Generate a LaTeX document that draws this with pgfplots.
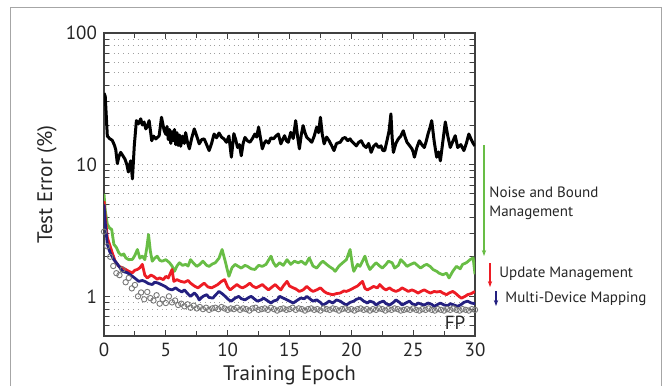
\documentclass[border=0pt]{standalone}
\usepackage{fontspec}
\setmainfont{PT Sans}
\usepackage{pgfplots}
\pgfplotsset{compat=1.18}
\usetikzlibrary{arrows.meta}
\definecolor{cgreen}{RGB}{104,189,69}
\definecolor{cred}{RGB}{237,28,36}
\definecolor{cblue}{RGB}{36,32,128}
\definecolor{cfp}{RGB}{120,120,120}
\begin{document}
\begin{tikzpicture}
\path[use as bounding box] (0,0) rectangle (333.5pt,193pt);
\draw[gray!70, line width=0.5pt] (5pt,0) -- (5pt,189pt) -- (330.5pt,189pt) -- (330.5pt,0);
\begin{axis}[
  at={(52pt,25pt)}, anchor=south west,
  scale only axis, width=185.5pt, height=151.5pt,
  ymode=log, log basis y=10,
  xmin=0, xmax=30, ymin=0.5, ymax=100,
  xtick={0,5,10,15,20,25,30}, xticklabels={0,5,10,15,20,25,30},
  minor xtick={2.5,7.5,12.5,17.5,22.5,27.5},
  ytick={1,10,100}, yticklabels={1,10,100},
  minor ytick={0.6,0.7,0.8,0.9,2,3,4,5,6,7,8,9,20,30,40,50,60,70,80,90},
  /pgf/number format/assume math mode=true,
  ymajorgrids, yminorgrids,
  major grid style={dotted, gray!75, line width=0.5pt},
  minor grid style={dotted, gray!75, line width=0.5pt},
  axis line style={black!75, line width=0.6pt},
  tick style={black!75, line width=0.5pt},
  major tick length=3pt, minor tick length=2.5pt,
  ticklabel style={font=\fontsize{9.5}{11}\selectfont, text=black!85},
  xlabel={Training Epoch}, ylabel={Test Error (\%)},
  label style={font=\fontsize{10.5}{12}\selectfont, text=black!85},
  x label style={at={(axis description cs:0.5,-0.128)}, anchor=center},
  y label style={at={(axis description cs:-0.154,0.5)}, anchor=center},
  clip=true,
]
% FP
\addplot[only marks, mark=o, mark size=1.35pt, mark options={draw=cfp, fill=white, line width=0.45pt}] coordinates {
(0,3.1)(0.25,2.4)(0.5,2.0)(0.75,1.7)(1.0,1.5)(1.25,1.45)(1.5,1.6)(1.75,1.28)(2.0,1.38)(2.25,1.15)(2.5,1.22)(2.75,1.0)(3.0,1.07)(3.25,0.95)(3.5,1.08)(3.75,0.97)(4.0,0.93)(4.25,1.02)(4.5,0.88)(4.75,0.95)(5.0,0.89)(5.25,1.0)(5.5,0.9)(5.75,0.93)(6.0,0.86)(6.25,0.88)(6.5,0.84)(6.75,0.87)(7.0,0.82)(7.25,0.85)(7.5,0.81)(7.75,0.83)(8.0,0.80)(8.25,0.82)(8.5,0.79)(8.75,0.81)(9.0,0.82)(9.25,0.80)(9.5,0.83)(9.75,0.81)(10.0,0.79)
(10.25,0.81)(10.5,0.80)(10.75,0.82)(11.0,0.79)(11.25,0.81)(11.5,0.80)(11.75,0.78)(12.0,0.81)(12.25,0.82)(12.5,0.79)(12.75,0.80)(13.0,0.81)(13.25,0.79)(13.5,0.82)(13.75,0.80)(14.0,0.78)(14.25,0.80)(14.5,0.81)(14.75,0.79)(15.0,0.80)(15.25,0.82)(15.5,0.79)(15.75,0.81)(16.0,0.80)(16.25,0.78)(16.5,0.80)(16.75,0.81)(17.0,0.79)(17.25,0.80)(17.5,0.78)(17.75,0.81)(18.0,0.80)(18.25,0.79)(18.5,0.81)(18.75,0.80)(19.0,0.78)(19.25,0.80)(19.5,0.81)(19.75,0.79)(20.0,0.80)
(20.25,0.78)(20.5,0.80)(20.75,0.81)(21.0,0.79)(21.25,0.80)(21.5,0.78)(21.75,0.80)(22.0,0.79)(22.25,0.81)(22.5,0.80)(22.75,0.78)(23.0,0.80)(23.25,0.79)(23.5,0.81)(23.75,0.80)(24.0,0.78)(24.25,0.79)(24.5,0.80)(24.75,0.79)(25.0,0.81)(25.25,0.79)(25.5,0.78)(25.75,0.80)(26.0,0.79)(26.25,0.81)(26.5,0.79)(26.75,0.78)(27.0,0.80)(27.25,0.79)(27.5,0.78)(27.75,0.80)(28.0,0.79)(28.25,0.81)(28.5,0.79)(28.75,0.78)(29.0,0.80)(29.25,0.79)(29.5,0.78)(29.75,0.80)(30.0,0.79)
};
% black
\addplot[black, line width=1.5pt, line join=round] coordinates {
(0,35)(0.1,33)(0.2,22)(0.27,16.5)(0.45,15.8)(0.67,15.3)(0.85,14.0)(0.95,13.0)(1.08,10.2)(1.2,11.5)(1.35,12.4)(1.5,11.8)(1.7,11.0)(1.85,10.0)(1.97,8.8)(2.1,10.2)(2.16,10.7)(2.3,7.8)(2.45,14)(2.62,21.6)(2.8,20.5)(2.97,22.3)(3.1,20)(3.24,21.1)(3.38,18.7)(3.5,19.5)(3.65,21.6)(3.86,15.2)(4.0,16.5)(4.19,15.7)(4.35,16.2)(4.46,16.6)(4.65,22.9)(4.87,18.1)(5.0,17)(5.1,19.5)(5.2,15.5)(5.3,18.5)(5.4,14.5)(5.5,17.8)(5.6,15.2)(5.7,18.5)(5.8,14.2)(5.9,17.5)(6.0,14.0)(6.1,16.8)(6.2,13.8)(6.35,16.5)(6.5,14.5)(6.6,17.5)(6.75,14.8)(6.9,13.2)(7.1,16)(7.3,18.7)(7.5,16.5)(7.7,14.4)(7.9,15.5)(8.1,15.7)(8.3,14.2)(8.5,12.8)(8.7,14.5)(8.9,17.1)(9.1,16.0)(9.3,17.4)(9.5,16.2)(9.7,15.7)(9.9,14.8)(10.1,16.5)(10.3,11.4)(10.5,17.2)(10.65,15.5)(10.8,13.5)(10.95,14.2)(11.1,11.7)(11.25,14.5)(11.4,16.1)(11.6,15.2)(11.8,14.8)(12.0,15.8)(12.2,17.1)(12.35,16.2)(12.5,19.3)(12.65,16)(12.8,13.2)(12.95,14.5)(13.1,15.2)(13.3,14.6)(13.5,16.0)(13.7,15.7)(13.9,16.5)(14.1,17.1)(14.3,14.4)(14.45,15.5)(14.6,16.6)(14.75,15.2)(14.9,14.8)(15.1,17.6)(15.3,15.8)(15.5,21.6)(15.65,16.5)(15.8,13.2)(15.95,16.8)(16.1,19.8)(16.25,17.5)(16.4,16.1)(16.6,15.5)(16.8,14.8)(17.0,16.5)(17.2,19.3)(17.35,17.5)(17.5,22.9)(17.65,17)(17.8,14.4)(18.0,16.2)(18.2,15.2)(18.4,14.0)(18.6,12.8)(18.8,14.5)(19.1,14.8)(19.3,15.8)(19.5,16.1)(19.7,15.2)(19.9,15.7)(20.0,15.2)(20.2,14.5)(20.4,13.9)(20.6,14.8)(20.8,15.2)(21.0,14.0)(21.2,13.5)(21.4,14.5)(21.6,12.4)(21.8,13.8)(22.0,14.4)(22.2,13.5)(22.4,13.9)(22.55,12.8)(22.7,12.8)(22.9,15.5)(23.05,18)(23.2,24.3)(23.3,16)(23.4,12.4)(23.6,14.5)(23.8,15.7)(24.0,16.5)(24.2,18.1)(24.35,16.2)(24.5,14.8)(24.7,14.0)(24.9,13.2)(25.0,12.5)(25.1,11.4)(25.3,13.5)(25.5,15.2)(25.7,14.2)(25.9,13.5)(26.05,15)(26.2,17.1)(26.35,19)(26.5,21.6)(26.7,15)(26.9,11.4)(27.05,12.5)(27.2,10.7)(27.4,15)(27.6,21.1)(27.8,16.5)(28.0,13.5)(28.2,15)(28.4,16.6)(28.6,13.5)(28.85,14.2)(29.1,12.8)(29.3,14.5)(29.5,17.1)(29.7,15.5)(29.85,14.5)(30,13.9)
};
% green
\addplot[cgreen, line width=1.4pt, line join=round] coordinates {
(0,6.0)(0.1,4.5)(0.27,3.53)(0.45,3.3)(0.62,3.23)(0.8,2.48)(1.0,2.35)(1.2,2.14)(1.4,2.05)(1.6,2.1)(1.76,1.96)(2.0,1.9)(2.3,1.91)(2.5,2.05)(2.7,2.27)(2.9,1.95)(3.1,2.02)(3.3,1.9)(3.45,2.3)(3.6,2.95)(3.75,2.2)(3.9,1.85)(4.1,1.95)(4.3,2.02)(4.5,1.88)(4.7,1.85)(5.0,1.9)(5.3,1.80)(5.5,1.7)(5.7,1.55)(5.9,1.7)(6.1,1.8)(6.35,1.72)(6.6,1.75)(6.8,1.7)(7.0,1.9)(7.25,1.78)(7.5,1.69)(7.75,1.75)(8.0,1.85)(8.3,1.72)(8.5,1.69)(8.75,1.76)(9.0,1.8)(9.3,1.95)(9.55,2.27)(9.8,1.85)(10.1,1.42)(10.35,1.65)(10.6,1.75)(10.9,1.68)(11.1,1.64)(11.4,1.72)(11.6,1.69)(11.9,1.62)(12.2,1.6)(12.5,1.72)(12.8,1.69)(13.1,1.75)(13.5,2.02)(13.7,1.8)(13.9,1.69)(14.2,1.8)(14.5,1.72)(14.8,1.9)(15.1,1.75)(15.4,1.85)(15.7,1.8)(15.95,1.85)(16.3,1.75)(16.6,1.96)(16.9,1.7)(17.2,1.64)(17.5,1.78)(17.7,1.85)(18.0,1.75)(18.2,1.69)(18.5,1.62)(18.7,1.55)(19.0,1.7)(19.3,1.8)(19.6,1.9)(19.9,2.27)(20.1,1.7)(20.2,1.55)(20.5,1.75)(20.7,1.69)(21.1,2.02)(21.3,1.75)(21.5,1.6)(21.8,1.72)(22.0,1.8)(22.3,1.7)(22.5,1.64)(22.8,1.75)(23.0,1.85)(23.3,1.8)(23.5,1.64)(23.8,1.72)(24.0,1.9)(24.3,1.78)(24.5,1.69)(24.8,1.75)(25.1,1.8)(25.4,1.7)(25.6,1.64)(25.9,1.72)(26.1,1.75)(26.4,1.68)(26.6,1.6)(26.9,1.55)(27.1,1.5)(27.4,1.46)(27.7,1.5)(27.9,1.38)(28.2,1.55)(28.5,1.69)(28.8,1.62)(29.0,1.75)(29.3,1.8)(29.6,1.9)(29.85,1.96)(30,1.47)
};
% red
\addplot[cred, line width=1.4pt, line join=round] coordinates {
(0,5.3)(0.1,4.0)(0.27,2.79)(0.5,2.4)(0.67,2.14)(0.9,1.85)(1.2,1.69)(1.5,1.65)(1.76,1.6)(2.0,1.55)(2.3,1.51)(2.5,1.58)(2.7,1.6)(2.9,1.65)(3.1,1.75)(3.3,1.45)(3.5,1.38)(3.8,1.45)(4.0,1.42)(4.3,1.35)(4.5,1.38)(4.8,1.34)(5.0,1.42)(5.2,1.38)(5.5,1.6)(5.65,1.30)(5.9,1.34)(6.2,1.30)(6.5,1.28)(6.8,1.32)(7.0,1.26)(7.3,1.2)(7.6,1.16)(7.9,1.22)(8.1,1.26)(8.4,1.18)(8.7,1.16)(9.0,1.2)(9.2,1.23)(9.5,1.3)(9.75,1.34)(10.0,1.18)(10.2,1.12)(10.5,1.18)(10.75,1.23)(11.0,1.18)(11.2,1.16)(11.5,1.2)(11.8,1.26)(12.0,1.2)(12.3,1.16)(12.6,1.2)(12.8,1.23)(13.1,1.16)(13.3,1.12)(13.6,1.18)(13.85,1.23)(14.1,1.16)(14.3,1.12)(14.5,1.2)(14.8,1.30)(15.0,1.2)(15.3,1.16)(15.5,1.14)(15.8,1.09)(16.1,1.12)(16.4,1.19)(16.7,1.12)(16.9,1.09)(17.2,1.12)(17.5,1.16)(17.8,1.09)(18.0,1.06)(18.3,1.04)(18.5,1.03)(18.8,1.05)(19.1,1.06)(19.4,1.1)(19.6,1.09)(19.9,1.12)(20.2,1.16)(20.5,1.2)(20.9,1.30)(21.1,1.15)(21.3,1.12)(21.6,1.16)(21.8,1.19)(22.1,1.16)(22.3,1.23)(22.6,1.15)(22.8,1.12)(23.1,1.16)(23.3,1.12)(23.6,1.09)(23.9,1.12)(24.1,1.16)(24.4,1.12)(24.6,1.09)(24.9,1.12)(25.1,1.1)(25.4,1.06)(25.7,1.1)(25.9,1.12)(26.2,1.08)(26.4,1.06)(26.7,1.09)(26.9,1.08)(27.2,1.09)(27.4,1.06)(27.7,1.03)(27.9,1.06)(28.2,1.09)(28.4,1.06)(28.7,1.0)(28.9,0.97)(29.2,1.0)(29.4,1.03)(29.7,1.05)(30,1.09)
};
% blue
\addplot[cblue, line width=1.4pt, line join=round] coordinates {
(0,5.0)(0.1,3.6)(0.27,2.48)(0.5,2.14)(0.8,1.9)(1.1,1.75)(1.5,1.55)(1.9,1.51)(2.3,1.42)(2.6,1.35)(2.8,1.3)(3.1,1.32)(3.3,1.3)(3.6,1.25)(3.9,1.23)(4.1,1.28)(4.4,1.26)(4.7,1.22)(4.95,1.19)(5.2,1.14)(5.5,1.12)(5.8,1.16)(6.0,1.12)(6.3,1.08)(6.5,1.12)(6.8,1.04)(7.0,1.0)(7.3,1.06)(7.5,1.02)(7.7,0.94)(8.0,1.0)(8.3,1.03)(8.5,0.98)(8.8,0.97)(9.0,1.02)(9.3,1.09)(9.6,1.04)(9.8,1.0)(10.1,0.94)(10.3,0.92)(10.6,0.97)(10.9,1.0)(11.1,0.96)(11.4,0.94)(11.7,0.98)(11.9,1.0)(12.2,0.95)(12.4,0.92)(12.7,0.94)(12.9,0.97)(13.2,0.93)(13.5,0.89)(13.7,0.92)(14.0,0.94)(14.2,1.0)(14.5,0.97)(14.8,0.94)(15.0,0.92)(15.3,0.89)(15.6,0.93)(15.9,0.97)(16.2,0.96)(16.4,1.0)(16.7,0.95)(16.9,0.92)(17.2,0.94)(17.5,0.9)(17.7,0.86)(18.0,0.89)(18.2,0.92)(18.5,0.89)(18.8,0.94)(19.1,0.92)(19.4,0.88)(19.6,0.86)(19.9,0.9)(20.2,0.92)(20.4,0.95)(20.7,0.97)(21.0,0.92)(21.3,0.89)(21.5,0.92)(21.8,0.9)(22.0,0.86)(22.3,0.9)(22.6,0.92)(22.8,0.88)(23.1,0.86)(23.4,0.9)(23.6,0.94)(23.9,0.9)(24.1,0.86)(24.4,0.89)(24.7,0.92)(24.9,0.88)(25.2,0.86)(25.4,0.89)(25.7,0.87)(25.9,0.86)(26.2,0.89)(26.5,0.87)(26.7,0.84)(27.0,0.87)(27.2,0.89)(27.5,0.86)(27.8,0.85)(28.0,0.88)(28.3,0.86)(28.6,0.84)(28.9,0.87)(29.1,0.9)(29.4,0.92)(29.7,0.89)(30,0.88)
};
\end{axis}
\begin{scope}[x=0.5pt, y=-0.5pt, yshift=193pt]
\draw[cgreen, line width=0.6pt, -{Stealth[length=3pt,width=2.2pt]}] (484,145) -- (484,256);
\draw[cred, line width=0.6pt, -{Stealth[length=3pt,width=2.2pt]}] (490,263) -- (490,287);
\draw[cblue, line width=0.6pt, -{Stealth[length=3pt,width=2.2pt]}] (496,291) -- (496,306);
\node[anchor=west, align=left, text=black!85, font=\fontsize{7.5}{9.5}\selectfont, inner sep=0pt] at (489,203) {Noise and Bound\\Management};
\node[anchor=west, text=black!85, font=\fontsize{7.5}{9}\selectfont, inner sep=0pt] at (499,274) {Update Management};
\node[anchor=west, text=black!85, font=\fontsize{7.5}{9}\selectfont, inner sep=0pt] at (505,299) {Multi-Device Mapping};
\node[text=black!85, font=\fontsize{9.5}{11}\selectfont, inner sep=0pt] at (455,323) {FP};
\end{scope}
\end{tikzpicture}
\end{document}
